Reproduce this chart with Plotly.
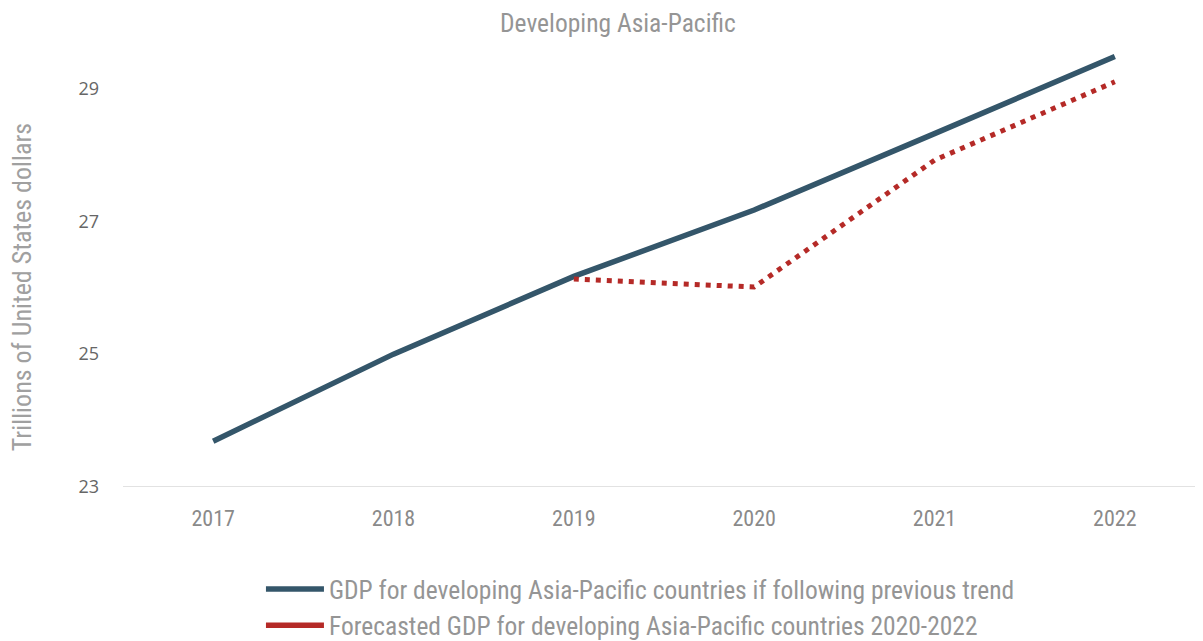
import plotly.graph_objects as go

years = ["2017", "2018", "2019", "2020", "2021", "2022"]
trend_gdp = [23.69, 25.0, 26.17, 27.17, 28.32, 29.48]
forecast_years = ["2019", "2020", "2021", "2022"]
forecast_gdp = [26.13, 26.01, 27.92, 29.1]

name_trend = "GDP for developing Asia-Pacific countries if following previous trend"
name_fc = "Forecasted GDP for developing Asia-Pacific countries 2020-2022"
y_title = "Trillions of United States dollars"
chart_title = "Developing Asia-Pacific"

BLUE = "#34566a"
RED = "#b52a27"
FONT = "Liberation Sans Narrow, Roboto Condensed, Roboto"
TXT = "#959595"

fig = go.Figure()
fig.add_trace(go.Scatter(x=years, y=trend_gdp, mode="lines", name=name_trend,
                         line=dict(color=BLUE, width=5.5)))
fig.add_trace(go.Scatter(x=forecast_years, y=forecast_gdp, mode="lines", name=name_fc,
                         line=dict(color=RED, width=5, dash="5px,6px"), showlegend=False))
fig.add_trace(go.Scatter(x=[None], y=[None], mode="lines", name=name_fc,
                         line=dict(color=RED, width=5.5)))

fig.update_layout(
    width=1203, height=641,
    margin=dict(l=115, r=6, t=13.5, b=162),
    paper_bgcolor="white", plot_bgcolor="white",
    font=dict(family=FONT, color=TXT, size=22),
    title=dict(text=chart_title, x=0.507, xanchor="center", y=0.977, yanchor="middle",
               automargin=False,
               font=dict(family=FONT, size=25.5, color=TXT)),
    xaxis=dict(type="category", range=[-0.5, 5.5], showgrid=False, zeroline=False,
               showline=False, ticks="", automargin=False,
               tickfont=dict(size=22, color="#8a8a8a"), ticklabelstandoff=16),
    yaxis=dict(range=[23, 30], tickvals=[23, 25, 27, 29], showgrid=False, zeroline=False,
               showline=False, ticks="", automargin=False,
               tickfont=dict(family="Open Sans, DejaVu Sans", size=18, color="#666666"),
               ticklabelstandoff=23),
    legend=dict(orientation="v", x=0.1275, xanchor="left", y=0.1295, yanchor="top",
                yref="container",
                font=dict(family=FONT, size=25.5, color=TXT), tracegroupgap=0,
                itemwidth=58),
    showlegend=True,
)
fig.add_annotation(text=y_title, textangle=-90, xref="paper", yref="paper",
                   x=-0.0933, y=0.4296, xanchor="center", yanchor="middle", showarrow=False,
                   font=dict(family=FONT, size=26, color="#a0a0a0"))
fig.add_shape(type="line", xref="paper", yref="y", x0=0, x1=1, y0=23, y1=23,
              line=dict(color="#d9d9d9", width=1.5), layer="below")

fig.write_html("out.html")
